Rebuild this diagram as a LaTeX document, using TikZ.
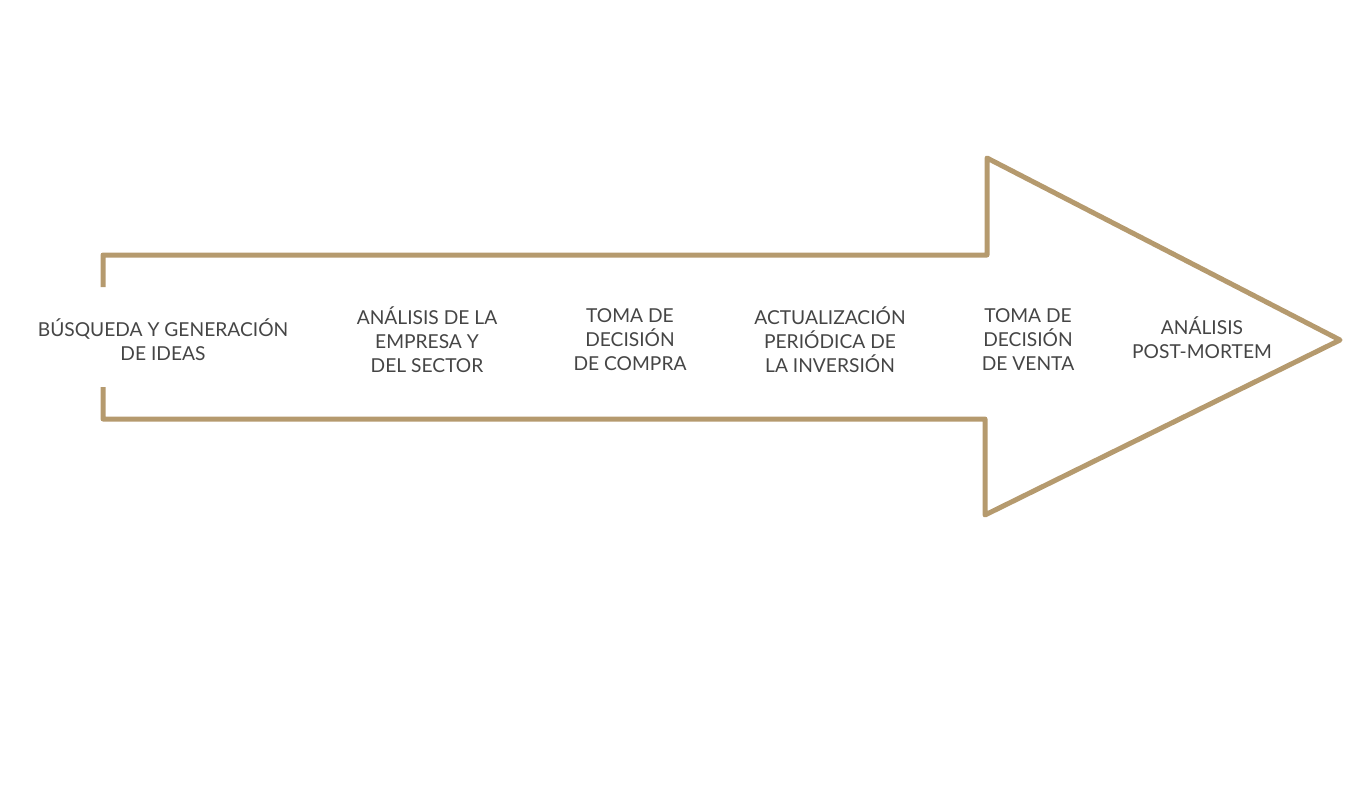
\documentclass[tikz,border=0pt]{standalone}
\usepackage{fontspec}
\setmainfont{Lato}
\definecolor{tan}{HTML}{B59A6E}
\definecolor{ink}{HTML}{454545}

\begin{document}
\begin{tikzpicture}[
        x=0.5pt, y=-0.5pt,
        every node/.style={font=\fontsize{9.6}{12}\selectfont, text=ink, align=center, inner sep=0pt}, % Step labels
        outline/.style={draw=tan, line width=2.5pt, line join=round} % Arrow outline
    ]
    \useasboundingbox (0,0) rectangle (1365,797);

    % Arrow outline
    \coordinate (gapTop) at (103,287);
    \coordinate (gapBot) at (103,387);
    \coordinate (headTop) at (987,158);
    \coordinate (tip) at (1340,340);
    \coordinate (headBot) at (985,515);
    \draw[outline] (gapTop) -- (103,255) -- (987,255) -- (headTop) -- (tip)
        -- (headBot) -- (985,419) -- (103,419) -- (gapBot);

    % Steps
    \node (s1) at (163,340) {BÚSQUEDA Y GENERACIÓN\\DE IDEAS};
    \node (s2) at (427,340) {ANÁLISIS DE LA\\EMPRESA Y\\DEL SECTOR};
    \node (s3) at (630,340) {TOMA DE\\DECISIÓN\\DE COMPRA};
    \node (s4) at (830,340) {ACTUALIZACIÓN\\PERIÓDICA DE\\LA INVERSIÓN};
    \node (s5) at (1028,340) {TOMA DE\\DECISIÓN\\DE VENTA};
    \node (s6) at (1202,338) {ANÁLISIS\\POST-MORTEM};

\end{tikzpicture}
\end{document}
